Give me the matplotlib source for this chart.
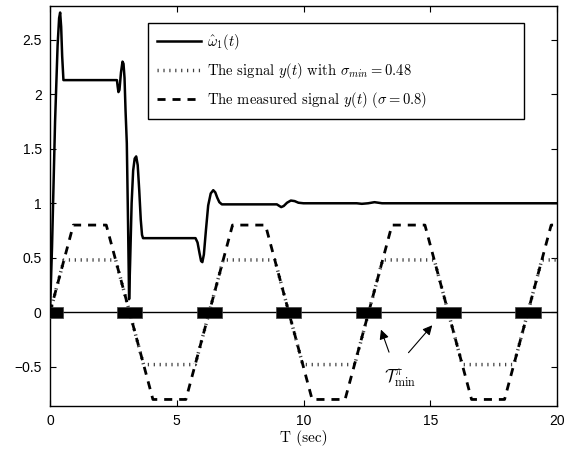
import numpy as np
import matplotlib
matplotlib.use("Agg")
import matplotlib.pyplot as plt

plt.rcParams['mathtext.fontset'] = 'cm'
plt.rcParams['font.family'] = 'Liberation Sans'
plt.rcParams['axes.unicode_minus'] = True

# estimated omega_1 hat trace
omega_t = [0.00, 0.08, 0.20, 0.30, 0.36, 0.40, 0.44, 0.48, 0.53,
           2.64, 2.67, 2.70, 2.74, 2.80, 2.86, 2.90, 2.94, 2.98, 3.03, 3.08, 3.12,
           3.16, 3.22, 3.28, 3.34, 3.40, 3.46, 3.52, 3.58, 3.63, 3.67,
           5.74, 5.82, 5.90, 5.96, 6.01, 6.07, 6.15, 6.24, 6.34, 6.44, 6.52, 6.60, 6.68, 6.78,
           8.95, 9.05, 9.12, 9.22, 9.35, 9.50, 9.65, 9.80, 10.0,
           12.1, 12.3, 12.55, 12.8, 13.1, 20.0]
omega_y = [0.00, 0.60, 1.75, 2.45, 2.70, 2.75, 2.62, 2.35, 2.13,
           2.13, 2.07, 2.02, 2.04, 2.20, 2.30, 2.28, 2.15, 1.85, 1.55, 0.80, 0.12,
           0.45, 1.00, 1.30, 1.41, 1.43, 1.35, 1.12, 0.85, 0.71, 0.68,
           0.68, 0.64, 0.54, 0.47, 0.46, 0.53, 0.75, 0.98, 1.09, 1.12, 1.10, 1.05, 1.01, 0.99,
           0.99, 0.975, 0.965, 0.975, 1.005, 1.025, 1.02, 1.005, 1.0,
           1.0, 0.995, 1.0, 1.01, 1.0, 1.0]

# signal clipped at sigma_min = 0.48 (corner points)
sig_t = [0, 0.55, 2.59, 3.14, 3.69, 5.73, 6.28, 6.83, 8.87, 9.42, 9.97, 12.02,
         12.57, 13.12, 15.16, 15.71, 16.26, 18.30, 18.85, 19.40, 20.0]
sig_y = [0, 0.48, 0.48, 0, -0.48, -0.48, 0, 0.48, 0.48, 0, -0.48, -0.48,
         0, 0.48, 0.48, 0, -0.48, -0.48, 0, 0.48, 0.48]

# measured signal, sigma = 0.8 (corner points)
meas_t = [0, 0.92, 2.22, 3.14, 4.06, 5.36, 6.28, 7.20, 8.50, 9.42, 10.34, 11.64,
          12.57, 13.49, 14.79, 15.71, 16.63, 17.93, 18.85, 19.77, 20.0]
meas_y = [0, 0.8, 0.8, 0, -0.8, -0.8, 0, 0.8, 0.8, 0, -0.8, -0.8,
          0, 0.8, 0.8, 0, -0.8, -0.8, 0, 0.8, 0.8]

# T_min^pi intervals around the zero crossings
tmin_centers = [0, 3.14, 6.28, 9.42, 12.57, 15.71, 18.85]
tmin_width = 1.0

fig = plt.figure(figsize=(5.72, 4.5), dpi=100)
ax = fig.add_axes([50/572, 44/450, 507/572, 400/450])

ax.axhline(0, color='black', lw=1.0, zorder=1)
ax.broken_barh([(c - tmin_width/2, tmin_width) for c in tmin_centers], (-0.05, 0.095),
               facecolors='black', edgecolor='0.25', lw=0.5, zorder=4)

ax.plot(omega_t, omega_y, color='black', lw=1.8, zorder=5,
        label=r'$\hat{\omega}_1(t)$')
ax.plot(sig_t, sig_y, color='0.25', lw=2.5, linestyle=(0, (0.35, 1.35)),
        dash_capstyle='butt', zorder=3,
        label=r'The signal $y(t)$ with $\sigma_{min}=0.48$')
ax.plot(meas_t, meas_y, color='black', lw=2.0, linestyle=(0, (2.9, 2.5)),
        dash_capstyle='butt', zorder=3,
        label=r'The measured signal $y(t)$ $(\sigma=0.8)$')

ax.text(13.8, -0.6, r'$\mathcal{T}^{\pi}_{\min}$', fontsize=12.5, ha='center', va='center')
ax.annotate('', xy=(13.02, -0.135), xytext=(13.41, -0.39),
            arrowprops=dict(arrowstyle='-|>', color='black', lw=0.8, mutation_scale=14))
ax.annotate('', xy=(15.15, -0.10), xytext=(14.07, -0.39),
            arrowprops=dict(arrowstyle='-|>', color='black', lw=0.8, mutation_scale=14))

ax.set_xlim(0, 20)
ax.set_ylim(-0.86, 2.81)
ax.set_xticks([0, 5, 10, 15, 20])
ax.set_yticks([-0.5, 0, 0.5, 1, 1.5, 2, 2.5])
ax.set_yticklabels(['\u22120.5', '0', '0.5', '1', '1.5', '2', '2.5'])
ax.tick_params(direction='in', length=4, width=0.8, top=True, right=True,
               labelsize=10, pad=6)
for s in ax.spines.values():
    s.set_linewidth(1.0)

ax.set_xlabel('T (sec)', fontfamily='cmr10', fontsize=11, labelpad=1)

leg = ax.legend(loc='upper left', bbox_to_anchor=(0.193, 0.9575, 0.742, 0),
                mode='expand', borderaxespad=0,
                prop={'family': 'cmr10', 'size': 10.5}, handlelength=3.0,
                labelspacing=0.6, fancybox=False, framealpha=1, edgecolor='black',
                borderpad=0.65, handletextpad=0.4)
leg.get_frame().set_linewidth(1.0)

fig.savefig('out.png', dpi=100)
